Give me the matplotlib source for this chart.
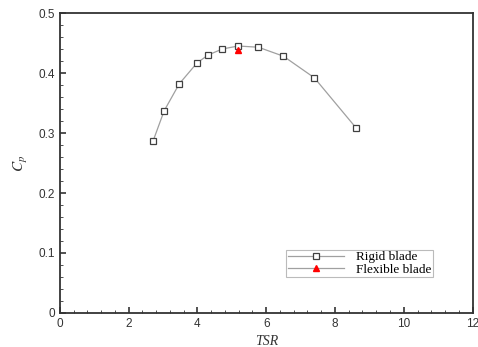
import matplotlib.pyplot as plt
from matplotlib.ticker import MultipleLocator

plt.rcParams['mathtext.fontset'] = 'stix'

# rigid blade data
tsr_rigid = [2.71, 3.03, 3.47, 3.99, 4.31, 4.72, 5.18, 5.77, 6.50, 7.40, 8.62]
cp_rigid = [0.287, 0.337, 0.382, 0.417, 0.430, 0.440, 0.445, 0.443, 0.428, 0.392, 0.308]

# flexible blade
tsr_flex = [5.18]
cp_flex = [0.438]

fig = plt.figure(figsize=(4.78, 3.47), dpi=100)
ax = fig.add_axes([0.1255, 0.098, 0.863, 0.8645])

ax.plot(tsr_rigid, cp_rigid, color='#a0a0a0', lw=0.9, marker='s', ms=4,
        mfc='white', mec='#404040', mew=0.9, label='Rigid blade')
ax.plot(tsr_flex, cp_flex, color='#a0a0a0', lw=0.9, marker='^', ms=5,
        mfc='red', mec='red', label='Flexible blade')

ax.set_xlim(0, 12)
ax.set_ylim(0, 0.5)
ax.xaxis.set_major_locator(MultipleLocator(2))
ax.xaxis.set_minor_locator(MultipleLocator(0.4))
ax.yaxis.set_major_locator(MultipleLocator(0.1))
ax.yaxis.set_minor_locator(MultipleLocator(0.02))
ax.yaxis.set_major_formatter(plt.FuncFormatter(lambda v, p: '0' if v == 0 else f'{v:.1f}'))

ax.tick_params(which='both', direction='in', top=False, right=False,
               labelsize=8.5, labelcolor='#333333', color='#333333')
ax.tick_params(which='major', length=4, width=1.2)
ax.tick_params(which='minor', length=2, width=0.6)
for lbl in ax.get_xticklabels() + ax.get_yticklabels():
    lbl.set_family('Liberation Sans')

for s in ax.spines.values():
    s.set_linewidth(1.3)
    s.set_color('#333333')

ax.set_xlabel('TSR', family='Liberation Serif', style='italic', fontsize=10, color='#333333')
ax.set_ylabel('$C_p$', fontsize=11, color='#333333', labelpad=6)

leg = ax.legend(loc='lower right', bbox_to_anchor=(0.904, 0.12), borderaxespad=0,
                prop={'family': 'Liberation Serif', 'size': 9.5},
                fancybox=False, edgecolor='#aaaaaa', handlelength=4.3,
                borderpad=0.1, labelspacing=0.0, handletextpad=0.9)
leg.get_frame().set_linewidth(0.8)

fig.savefig('out.png', dpi=100)
